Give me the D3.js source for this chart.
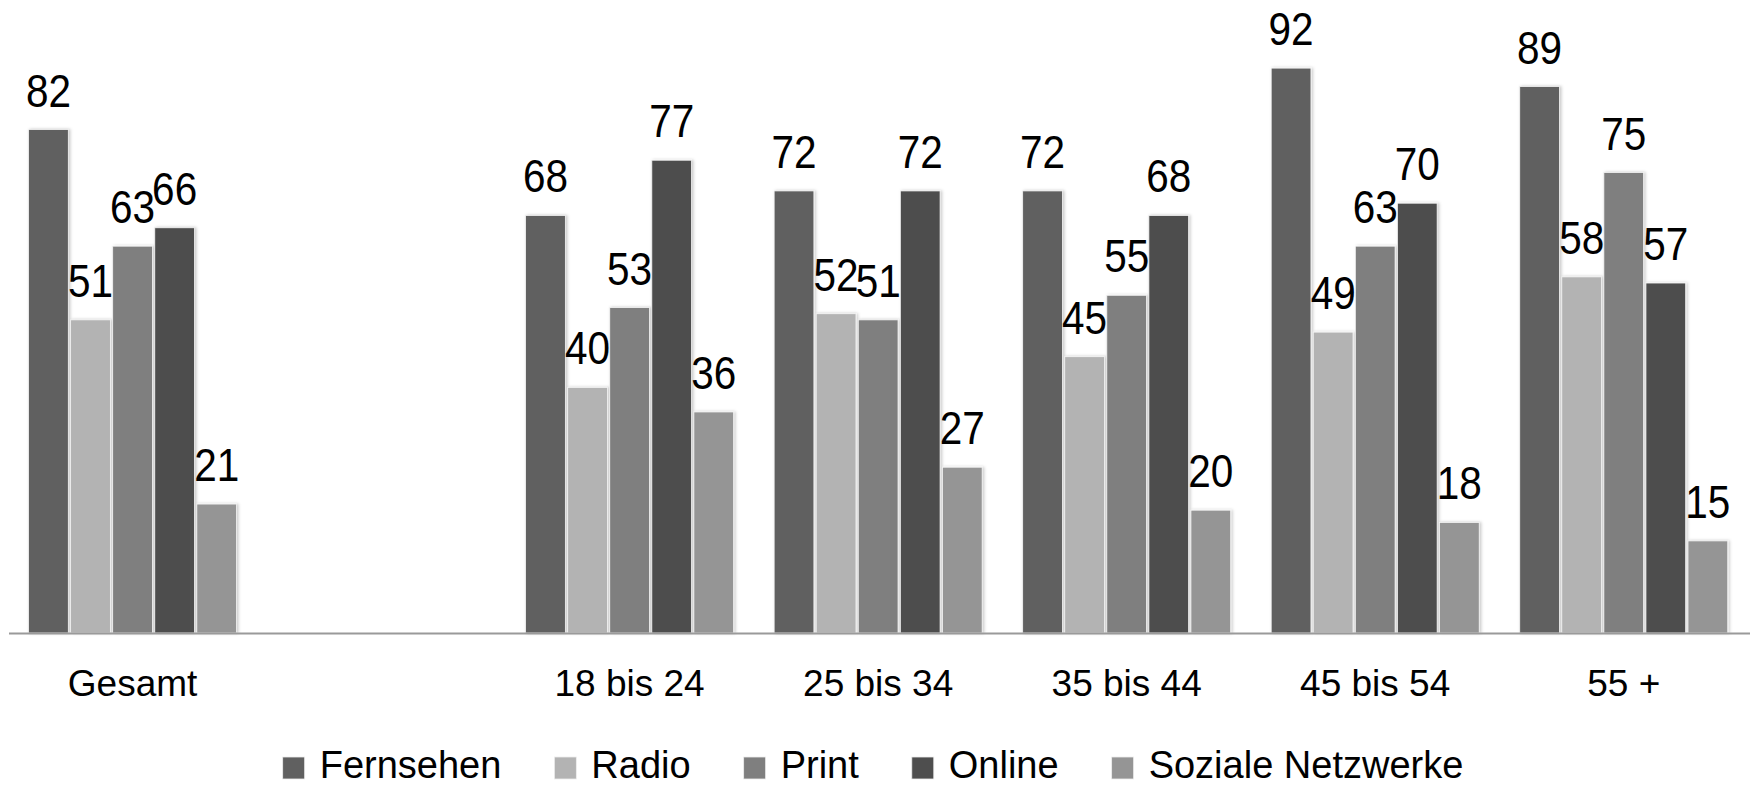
<!DOCTYPE html>
<html>
<head>
<meta charset="utf-8">
<script src="https://cdn.jsdelivr.net/npm/d3@7"></script>
<style>
  html, body { margin: 0; padding: 0; background: #ffffff; }
  svg { display: block; }
  text { font-family: "Liberation Sans", Arial, sans-serif; fill: #000; }
</style>
</head>
<body>
<svg id="chart" width="1750" height="790"></svg>
<script>
// Age groups (with an empty slot after the total)
const categories = ["Gesamt", "", "18 bis 24", "25 bis 34", "35 bis 44", "45 bis 54", "55 +"];
const groups = ["Gesamt", "18 bis 24", "25 bis 34", "35 bis 44", "45 bis 54", "55 +"];
const seriesNames = ["Fernsehen", "Radio", "Print", "Online", "Soziale Netzwerke"];
const seriesColors = ["#606060", "#b3b3b3", "#7f7f7f", "#4e4e4e", "#959595"];

// Values per medium, one entry per age group
const fernsehen = [82, 68, 72, 72, 92, 89];
const radio     = [51, 40, 52, 45, 49, 58];
const print     = [63, 53, 51, 55, 63, 75];
const online    = [66, 77, 72, 68, 70, 57];
const sozial    = [21, 36, 27, 20, 18, 15];
const seriesValues = [fernsehen, radio, print, online, sozial];

const svg = d3.select("#chart");
const W = 1750;

const x0 = d3.scaleBand()
  .domain(categories)
  .range([8.3, 1748])
  .paddingInner(0.163)
  .paddingOuter(0.0815);

const x1 = d3.scaleBand()
  .domain(seriesNames)
  .range([0, x0.bandwidth()])
  .paddingInner(0.055)
  .paddingOuter(0);

const y = d3.scaleLinear().domain([0, 100]).range([633, 19]);

// soft shadow behind the bars
const defs = svg.append("defs");
const f = defs.append("filter").attr("id", "shadow")
  .attr("x", "-20%").attr("y", "-5%").attr("width", "140%").attr("height", "110%");
f.append("feDropShadow")
  .attr("dx", 1.5).attr("dy", 0).attr("stdDeviation", 1.5)
  .attr("flood-color", "#000").attr("flood-opacity", 0.22);

const rows = [];
groups.forEach((g, gi) => {
  seriesNames.forEach((s, si) => {
    rows.push({ group: g, series: s, value: seriesValues[si][gi], color: seriesColors[si] });
  });
});

const plot = svg.append("g");

plot.selectAll("rect.bar")
  .data(rows)
  .join("rect")
  .attr("class", "bar")
  .attr("x", d => x0(d.group) + x1(d.series))
  .attr("y", d => y(d.value))
  .attr("width", x1.bandwidth())
  .attr("height", d => y(0) - y(d.value))
  .attr("fill", d => d.color)
  .attr("stroke", "#f4f4f4")
  .attr("stroke-width", 0.8)
  .attr("filter", "url(#shadow)");

// value labels (condensed look)
plot.selectAll("text.val")
  .data(rows)
  .join("text")
  .attr("class", "val")
  .attr("text-anchor", "middle")
  .attr("font-size", 46)
  .attr("transform", d => {
    const cx = x0(d.group) + x1(d.series) + x1.bandwidth() / 2;
    return `translate(${cx},${y(d.value) - 23}) scale(0.88,1)`;
  })
  .text(d => d.value);

// baseline
svg.append("line")
  .attr("x1", 9).attr("x2", W)
  .attr("y1", y(0) + 0.5).attr("y2", y(0) + 0.5)
  .attr("stroke", "#9a9a9a").attr("stroke-width", 2);

// category labels
svg.append("g").selectAll("text")
  .data(groups)
  .join("text")
  .attr("x", d => x0(d) + x0.bandwidth() / 2)
  .attr("y", 696)
  .attr("text-anchor", "middle")
  .attr("font-size", 37)
  .text(d => d);

// legend
const legend = svg.append("g");
const items = legend.selectAll("g")
  .data(seriesNames.map((s, i) => ({ name: s, color: seriesColors[i] })))
  .join("g");
items.append("rect")
  .attr("width", 22).attr("height", 22)
  .attr("y", 757)
  .attr("fill", d => d.color)
  .attr("stroke", "#eeeeee").attr("stroke-width", 0.8);
items.append("text")
  .attr("x", 37)
  .attr("y", 778)
  .attr("font-size", 38)
  .text(d => d.name);

let cursor = 0;
const gap = 53;
items.each(function () {
  const g = d3.select(this);
  g.attr("data-x", cursor);
  const tw = g.select("text").node().getComputedTextLength();
  g.attr("transform", `translate(${cursor},0)`);
  cursor += 37 + tw + gap;
});
const total = cursor - gap;
legend.attr("transform", `translate(${873 - total / 2},0)`);
</script>
</body>
</html>
